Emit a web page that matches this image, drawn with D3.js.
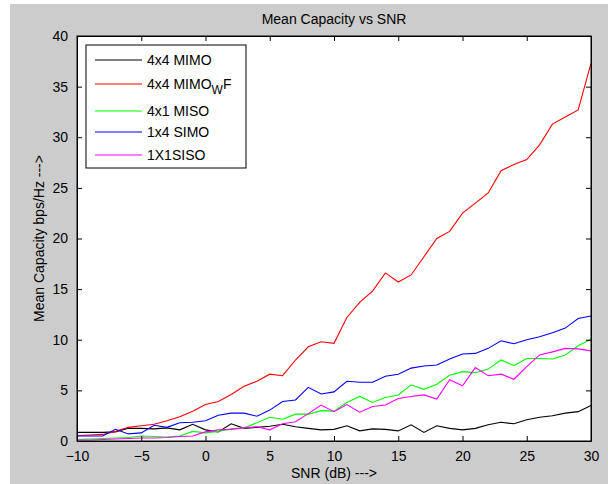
<!DOCTYPE html>
<html>
<head>
<meta charset="utf-8">
<script src="https://cdn.jsdelivr.net/npm/d3@7"></script>
<style>
  body { margin: 0; background: #ffffff; }
  svg text { font-family: "Liberation Sans", Arial, sans-serif; fill: #000; }
</style>
</head>
<body>
<svg id="chart" width="608" height="484"></svg>
<script>
// SNR axis values (dB)
const snr = d3.range(-10, 31, 1);

// series values, one per SNR step
const mimo4x4 = [0.85,0.85,0.85,0.9,1.25,1.25,1.2,1.3,1.1,1.65,1.1,0.9,1.7,1.25,1.35,1.45,1.65,1.4,1.25,1.1,1.15,1.5,1.0,1.2,1.15,1.0,1.6,0.85,1.5,1.25,1.1,1.25,1.6,1.85,1.7,2.1,2.35,2.5,2.75,2.9,3.5];
const mimoWF  = [0.55,0.6,0.65,0.95,1.35,1.5,1.65,2.0,2.4,2.95,3.6,3.9,4.6,5.4,5.9,6.6,6.45,8.0,9.3,9.8,9.65,12.2,13.7,14.8,16.6,15.7,16.4,18.2,20.0,20.7,22.5,23.5,24.5,26.7,27.3,27.8,29.25,31.3,32.0,32.7,37.3];
const miso4x1 = [0.15,0.2,0.25,0.3,0.35,0.5,0.45,0.4,0.5,0.95,0.8,0.95,1.2,1.3,1.8,2.35,2.15,2.65,2.65,3.0,2.95,3.8,4.4,3.8,4.3,4.55,5.55,5.1,5.6,6.5,6.85,6.75,7.1,8.0,7.45,8.15,8.15,8.1,8.5,9.4,10.05];
const simo1x4 = [0.5,0.5,0.5,1.15,0.7,0.8,1.55,1.35,1.8,1.85,2.0,2.55,2.75,2.75,2.45,3.05,3.9,4.05,5.3,4.65,4.85,5.9,5.8,5.8,6.4,6.6,7.2,7.4,7.5,8.1,8.6,8.65,9.15,9.9,9.6,10.0,10.3,10.7,11.15,12.1,12.35];
const siso1x1 = [0.1,0.1,0.15,0.2,0.25,0.3,0.3,0.35,0.45,0.5,0.9,1.1,1.15,1.3,1.4,1.1,1.7,1.9,2.7,3.55,2.9,3.6,2.85,3.4,3.55,4.2,4.4,4.55,4.15,6.05,5.45,7.25,6.45,6.6,6.1,7.35,8.5,8.8,9.15,9.1,8.9];

const xTicks = [-10, -5, 0, 5, 10, 15, 20, 25, 30];
const yTicks = [0, 5, 10, 15, 20, 25, 30, 35, 40];

const names  = ["4x4 MIMO", "4x4 MIMO_WF", "4x1 MISO", "1x4 SIMO", "1X1SISO"];
const colors = ["#000000", "#ff0000", "#00ff00", "#0000ff", "#ff00ff"];
const values = [mimo4x4, mimoWF, miso4x1, simo1x4, siso1x1];

const MARGIN = { LEFT: 77, RIGHT: 17, TOP: 36, BOTTOM: 43 };
const width = 608, height = 484;

let svg = d3.select("#chart");

// grey figure background
svg.append("rect")
    .attr("x", 10).attr("y", 4)
    .attr("width", width - 10).attr("height", height - 4)
    .attr("fill", "#cccccc");

let xScale = d3.scaleLinear()
    .domain([-10, 30])
    .range([MARGIN.LEFT, width - MARGIN.RIGHT]);

let yScale = d3.scaleLinear()
    .domain([0, 40])
    .range([height - MARGIN.BOTTOM, MARGIN.TOP]);

// white axes area
svg.append("rect")
    .attr("x", MARGIN.LEFT).attr("y", MARGIN.TOP)
    .attr("width", xScale(30) - xScale(-10))
    .attr("height", yScale(0) - yScale(40))
    .attr("fill", "#ffffff");

// series lines
let line = d3.line()
    .x((d, i) => xScale(snr[i]))
    .y(d => yScale(d));

svg.append("g").selectAll("path")
    .data(values)
    .join("path")
    .attr("d", d => line(d))
    .attr("fill", "none")
    .attr("stroke", (d, i) => colors[i])
    .attr("stroke-width", 1.1);

// axes, MATLAB style ticks pointing inwards on all sides
const tl = 5;
svg.append("g")
    .attr("transform", "translate(0," + yScale(0) + ")")
    .call(d3.axisBottom(xScale).tickValues(xTicks).tickSizeInner(-tl).tickSizeOuter(0).tickPadding(10))
    .call(g => g.selectAll("text").attr("font-size", 14).attr("font-family", "Liberation Sans, Arial, sans-serif"));

svg.append("g")
    .attr("transform", "translate(0," + yScale(40) + ")")
    .call(d3.axisTop(xScale).tickValues(xTicks).tickSizeInner(-tl).tickSizeOuter(0).tickFormat(""));

svg.append("g")
    .attr("transform", "translate(" + xScale(-10) + ",0)")
    .call(d3.axisLeft(yScale).tickValues(yTicks).tickSizeInner(-tl).tickSizeOuter(0).tickPadding(9))
    .call(g => g.selectAll("text").attr("font-size", 14).attr("font-family", "Liberation Sans, Arial, sans-serif"));

svg.append("g")
    .attr("transform", "translate(" + xScale(30) + ",0)")
    .call(d3.axisRight(yScale).tickValues(yTicks).tickSizeInner(-tl).tickSizeOuter(0).tickFormat(""));

svg.selectAll(".domain").attr("stroke", "#000");
svg.selectAll(".tick line").attr("stroke", "#000");

// box
svg.append("rect")
    .attr("x", xScale(-10)).attr("y", yScale(40))
    .attr("width", xScale(30) - xScale(-10))
    .attr("height", yScale(0) - yScale(40))
    .attr("fill", "none")
    .attr("stroke", "#000");

// title and axis labels
let cx = (xScale(-10) + xScale(30)) / 2;
svg.append("text")
    .attr("x", cx).attr("y", 24)
    .attr("text-anchor", "middle")
    .attr("font-size", 14)
    .text("Mean Capacity vs SNR");

svg.append("text")
    .attr("x", cx).attr("y", 478)
    .attr("text-anchor", "middle")
    .attr("font-size", 14)
    .text("SNR (dB) --->");

svg.append("text")
    .attr("transform", "translate(44," + ((yScale(0) + yScale(40)) / 2) + ") rotate(-90)")
    .attr("text-anchor", "middle")
    .attr("font-size", 14)
    .text("Mean Capacity bps/Hz --->");

// legend
let legend = svg.append("g");
legend.append("rect")
    .attr("x", 86).attr("y", 45)
    .attr("width", 160).attr("height", 123)
    .attr("fill", "#ffffff")
    .attr("stroke", "#000");

const rowY = [60, 84, 111, 132, 155];
names.forEach(function(n, i) {
    legend.append("line")
        .attr("x1", 95).attr("x2", 142)
        .attr("y1", rowY[i]).attr("y2", rowY[i])
        .attr("stroke", colors[i])
        .attr("stroke-width", 1.1);
    let t = legend.append("text")
        .attr("x", 147).attr("y", rowY[i] + 5)
        .attr("font-size", 14);
    if (n.indexOf("_") > 0) {
        let parts = n.split("_");
        t.append("tspan").text(parts[0]);
        t.append("tspan").attr("dy", 5).attr("font-size", 12).text(parts[1][0]);
        t.append("tspan").attr("dy", -5).text(parts[1].slice(1));
    } else {
        t.text(n);
    }
});
</script>
</body>
</html>
